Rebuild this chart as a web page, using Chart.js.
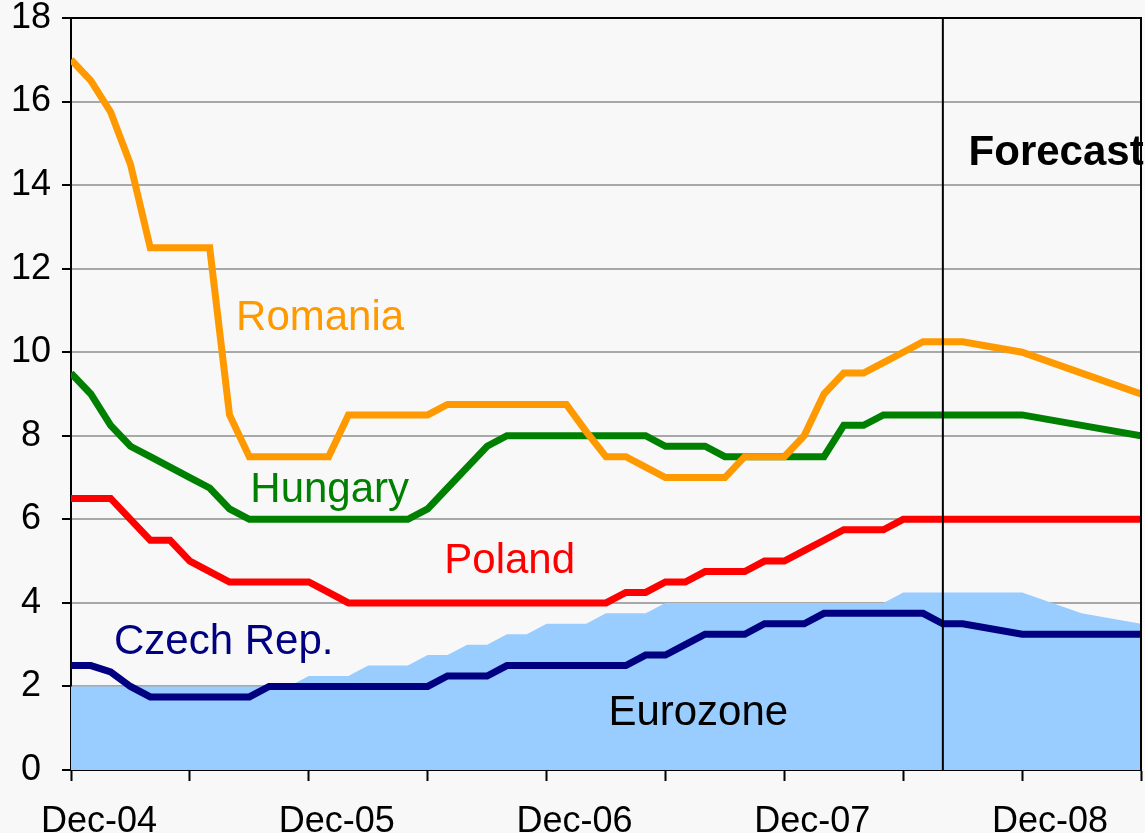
<!DOCTYPE html>
<html>
<head>
<meta charset="utf-8">
<script src="https://cdn.jsdelivr.net/npm/chart.js@4.4.1/dist/chart.umd.min.js"></script>
<style>
  html, body { margin: 0; padding: 0; background: #f8f8f8; }
  canvas { display: block; }
</style>
</head>
<body>
<canvas id="graficoTasas" width="1145" height="833"></canvas>
<script>
// months Dec-04 .. Jun-09
const meses = [
  'Dec-04',
  'Jan-05','Feb-05','Mar-05','Apr-05','May-05','Jun-05','Jul-05','Aug-05','Sep-05','Oct-05','Nov-05','Dec-05',
  'Jan-06','Feb-06','Mar-06','Apr-06','May-06','Jun-06','Jul-06','Aug-06','Sep-06','Oct-06','Nov-06','Dec-06',
  'Jan-07','Feb-07','Mar-07','Apr-07','May-07','Jun-07','Jul-07','Aug-07','Sep-07','Oct-07','Nov-07','Dec-07',
  'Jan-08','Feb-08','Mar-08','Apr-08','May-08','Jun-08','Jul-08','Aug-08','Sep-08','Oct-08','Nov-08','Dec-08',
  'Jan-09','Feb-09','Mar-09','Apr-09','May-09','Jun-09'
];
const inicioPronostico = 'Aug-08';

const romania = [
  17.0, 16.5, 15.75, 14.5, 12.5, 12.5, 12.5, 12.5, 8.5, 7.5, 7.5, 7.5,
  7.5, 7.5, 8.5, 8.5, 8.5, 8.5, 8.5, 8.75, 8.75, 8.75, 8.75, 8.75,
  8.75, 8.75, 8.1, 7.5, 7.5, 7.25, 7.0, 7.0, 7.0, 7.0, 7.5, 7.5,
  7.5, 8.0, 9.0, 9.5, 9.5, 9.75, 10.0, 10.25, 10.25, 10.25, null, null,
  10.0, null, null, 9.5, null, null, 9.0
];
const hungary = [
  9.5, 9.0, 8.25, 7.75, 7.5, 7.25, 7.0, 6.75, 6.25, 6.0, 6.0, 6.0,
  6.0, 6.0, 6.0, 6.0, 6.0, 6.0, 6.25, 6.75, 7.25, 7.75, 8.0, 8.0,
  8.0, 8.0, 8.0, 8.0, 8.0, 8.0, 7.75, 7.75, 7.75, 7.5, 7.5, 7.5,
  7.5, 7.5, 7.5, 8.25, 8.25, 8.5, 8.5, 8.5, 8.5, 8.5, null, null,
  8.5, null, null, 8.25, null, null, 8.0
];
const poland = [
  6.5, 6.5, 6.5, 6.0, 5.5, 5.5, 5.0, 4.75, 4.5, 4.5, 4.5, 4.5,
  4.5, 4.25, 4.0, 4.0, 4.0, 4.0, 4.0, 4.0, 4.0, 4.0, 4.0, 4.0,
  4.0, 4.0, 4.0, 4.0, 4.25, 4.25, 4.5, 4.5, 4.75, 4.75, 4.75, 5.0,
  5.0, 5.25, 5.5, 5.75, 5.75, 5.75, 6.0, 6.0, 6.0, 6.0, null, null,
  6.0, null, null, 6.0, null, null, 6.0
];
const czech = [
  2.5, 2.5, 2.35, 2.0, 1.75, 1.75, 1.75, 1.75, 1.75, 1.75, 2.0, 2.0,
  2.0, 2.0, 2.0, 2.0, 2.0, 2.0, 2.0, 2.25, 2.25, 2.25, 2.5, 2.5,
  2.5, 2.5, 2.5, 2.5, 2.5, 2.75, 2.75, 3.0, 3.25, 3.25, 3.25, 3.5,
  3.5, 3.5, 3.75, 3.75, 3.75, 3.75, 3.75, 3.75, 3.5, 3.5, null, null,
  3.25, null, null, 3.25, null, null, 3.25
];
const eurozone = [
  2.0, 2.0, 2.0, 2.0, 2.0, 2.0, 2.0, 2.0, 2.0, 2.0, 2.0, 2.0,
  2.25, 2.25, 2.25, 2.5, 2.5, 2.5, 2.75, 2.75, 3.0, 3.0, 3.25, 3.25,
  3.5, 3.5, 3.5, 3.75, 3.75, 3.75, 4.0, 4.0, 4.0, 4.0, 4.0, 4.0,
  4.0, 4.0, 4.0, 4.0, 4.0, 4.0, 4.25, 4.25, 4.25, 4.25, null, null,
  4.25, null, null, 3.75, null, null, 3.5
];

const FUENTE = '"Liberation Sans", Arial, sans-serif';

// text labels inside the plot (in axis units: month index, rate)
const etiquetas = [
  { texto: 'Romania',    color: '#ff9900', x: 8.33,  y: 10.53, negrita: false },
  { texto: 'Hungary',    color: '#008000', x: 9.05,  y: 6.41,  negrita: false },
  { texto: 'Poland',     color: '#ff0000', x: 18.84, y: 4.71,  negrita: false },
  { texto: 'Czech Rep.', color: '#000080', x: 2.17,  y: 2.78,  negrita: false },
  { texto: 'Eurozone',   color: '#000000', x: 27.12, y: 1.08,  negrita: false },
  { texto: 'Forecast',   color: '#000000', x: 45.3,  y: 14.48, negrita: true }
];

const aPuntos = arr => arr.map((v, i) => ({ x: i, y: v }));

const marcoYTextos = {
  id: 'marcoYTextos',
  afterDatasetsDraw(chart) {
    const { ctx, chartArea: a, scales } = chart;
    ctx.save();
    ctx.strokeStyle = '#000';
    ctx.lineWidth = 2;
    // top and right border of plot area
    ctx.beginPath();
    ctx.moveTo(a.left, a.top);
    ctx.lineTo(a.right, a.top);
    ctx.lineTo(a.right, a.bottom);
    ctx.stroke();
    // forecast separator
    const xf = scales.x.getPixelForValue(meses.indexOf(inicioPronostico));
    ctx.beginPath();
    ctx.moveTo(xf, a.top);
    ctx.lineTo(xf, a.bottom);
    ctx.stroke();
    ctx.restore();
  },
  afterDraw(chart) {
    const { ctx, scales } = chart;
    ctx.save();
    ctx.textAlign = 'left';
    ctx.textBaseline = 'alphabetic';
    etiquetas.forEach(e => {
      ctx.font = (e.negrita ? 'bold ' : '') + '42px ' + FUENTE;
      ctx.fillStyle = e.color;
      ctx.fillText(e.texto, scales.x.getPixelForValue(e.x), scales.y.getPixelForValue(e.y));
    });
    ctx.restore();
  }
};

const linea = (label, data, color, order) => ({
  label, data: aPuntos(data), borderColor: color, backgroundColor: color,
  borderWidth: 7, pointRadius: 0, fill: false, spanGaps: true, order
});

new Chart(document.getElementById('graficoTasas'), {
  type: 'line',
  data: {
    datasets: [
      linea('Romania', romania, '#ff9900', 0),
      linea('Hungary', hungary, '#008000', 1),
      linea('Poland', poland, '#ff0000', 2),
      linea('Czech Rep.', czech, '#000080', 3),
      {
        label: 'Eurozone', data: aPuntos(eurozone), borderWidth: 0, borderColor: 'rgba(0,0,0,0)',
        backgroundColor: '#99ccff', fill: 'origin', pointRadius: 0, spanGaps: true, order: 10
      }
    ]
  },
  options: {
    responsive: false,
    animation: false,
    devicePixelRatio: 1,
    layout: { padding: { top: 18, right: 4, left: 0, bottom: 0 } },
    plugins: { legend: { display: false }, tooltip: { enabled: false } },
    elements: { line: { tension: 0 } },
    scales: {
      x: {
        type: 'linear', min: 0, max: meses.length - 1,
        afterFit: s => { s.height = 63; s.paddingLeft = 0; s.paddingRight = 0; },
        ticks: {
          stepSize: 6, autoSkip: false, maxRotation: 0, minRotation: 0,
          labelOffset: 28, padding: 19, color: '#000',
          font: { family: FUENTE, size: 36 },
          callback: v => (v % 12 === 0 ? meses[v] : '')
        },
        grid: { drawOnChartArea: false, tickLength: 11, tickColor: '#000', tickWidth: 2 },
        border: { color: '#000', width: 2 }
      },
      y: {
        min: 0, max: 18,
        afterFit: s => { s.width = 71; s.paddingTop = 0; s.paddingBottom = 0; },
        ticks: {
          stepSize: 2, crossAlign: 'center', padding: 11, color: '#000',
          font: { family: FUENTE, size: 36, lineHeight: 1 }
        },
        grid: { color: '#a8a8a8', lineWidth: 2, tickLength: 9, tickColor: '#000', tickWidth: 2 },
        border: { color: '#000', width: 2 }
      }
    }
  },
  plugins: [marcoYTextos]
});
</script>
</body>
</html>
